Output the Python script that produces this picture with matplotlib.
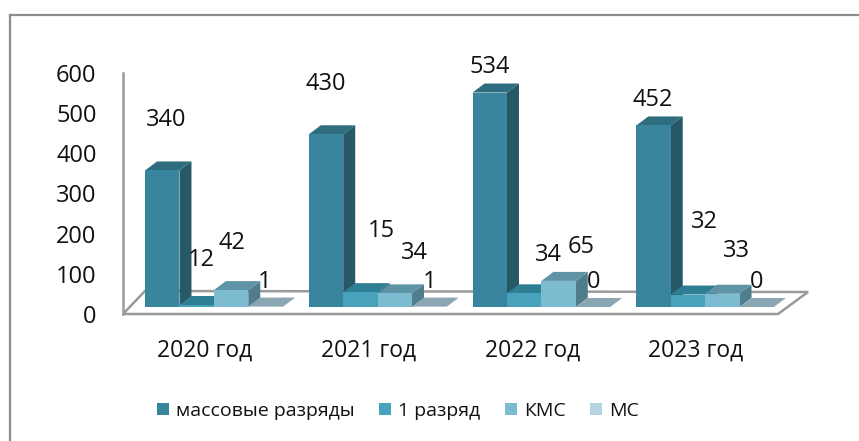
import matplotlib
matplotlib.use("Agg")
import matplotlib.pyplot as plt
from matplotlib.patches import Polygon, Patch
from matplotlib.lines import Line2D

plt.rcParams['font.family'] = ['Open Sans', 'DejaVu Sans']

years = ["2020 год", "2021 год", "2022 год", "2023 год"]
series_names = ["массовые разряды", "1 разряд", "КМС", "МС"]
# values printed as data labels
mass = [340, 430, 534, 452]
first = [12, 15, 34, 32]
kms = [42, 34, 65, 33]
ms = [1, 1, 0, 0]
series = [mass, first, kms, ms]
# the drawn "1 разряд" bars differ from their printed labels in the reference
first_drawn = [5, 37, 34, 31]
drawn = [mass, first_drawn, kms, ms]
y_ticks = [0, 100, 200, 300, 400, 500, 600]

front_cols = ["#3A859E", "#48A2BB", "#7DBBD0", "#B5D4E0"]
top_cols = ["#2E6C80", "#2F7F94", "#5F93A6", "#8AA6B2"]
side_cols = ["#275865", "#2A6A7C", "#4F7D8B", "#7F9AA6"]
GRAY = "#9A9A9A"
TXT = "#111111"

W, H = 859, 441
PX_L, PX_R, PX_B, PX_T = 123, 778, 314, 73

fig = plt.figure(figsize=(W / 100, H / 100), dpi=100)
ax = fig.add_axes([PX_L / W, 1 - PX_B / H, (PX_R - PX_L) / W, (PX_B - PX_T) / H])
ax.set_xlim(-0.5, 3.5)
ax.set_ylim(0, 600)
ax.patch.set_alpha(0)

ux = (PX_R - PX_L) / 4        # px per category
uy = (PX_B - PX_T) / 600      # px per value
def dx(p): return p / ux
def dy(p): return p / uy

# Outer frame (cropped at right and bottom)
fig.add_artist(Line2D([10 / W, 10 / W], [0, 1 - 15 / H], color="#8C8C8C", lw=1.6))
fig.add_artist(Line2D([10 / W, 1], [1 - 15 / H, 1 - 15 / H], color="#8C8C8C", lw=1.6))

# Floor
x0, x1 = -0.5, 3.5
floor = Polygon([(x0, 0), (x1, 0), (x1 + dx(30), dy(22)), (x0 + dx(22), dy(23))],
                closed=True, fc="white", ec=GRAY, lw=1.8, clip_on=False, zorder=1)
ax.add_patch(floor)

# Bars
bar_w = dx(34.4)
base_x = dx(9)     # bar block shift on the floor
base_y = dy(7)
dep_x, dep_y = dx(12), dy(9)
for j, vals in enumerate(drawn):
    for i, v in enumerate(vals):
        l = i + base_x + (j - 2) * bar_w
        r = l + bar_w
        b = base_y
        t = b + v
        z = 3 + i * 10 + j
        ax.add_patch(Polygon([(r, b), (r + dep_x, b + dep_y), (r + dep_x, t + dep_y), (r, t)],
                             fc=side_cols[j], ec="none", clip_on=False, zorder=z))
        ax.add_patch(Polygon([(l, t), (r, t), (r + dep_x, t + dep_y), (l + dep_x, t + dep_y)],
                             fc=top_cols[j], ec="none", clip_on=False, zorder=z + 0.1))
        ax.bar(l, v, width=bar_w, bottom=b, align="edge", color=front_cols[j],
               clip_on=False, zorder=z + 0.2, lw=0)

# Axes styling
for s in ("top", "right", "bottom"):
    ax.spines[s].set_visible(False)
ax.spines["left"].set_color(GRAY)
ax.spines["left"].set_linewidth(1.8)
ax.set_yticks(y_ticks)
ax.tick_params(axis="y", length=0, pad=19, labelsize=17, labelcolor=TXT)
ax.set_xticks(range(4))
ax.set_xticklabels(years)
ax.tick_params(axis="x", length=0, pad=18, labelsize=16.5, labelcolor=TXT)

# Data labels (text anchors in image pixels)
label_xy = [
    [(166, 120), (326, 84), (490, 67), (653, 100)],
    [(201, 260), (381, 231), (548, 255), (704, 222)],
    [(232, 243), (414, 253), (581, 247), (736, 251)],
    [(265, 282), (430, 282), (594, 282), (757, 282)],
]
for j, vals in enumerate(series):
    for i, v in enumerate(vals):
        px, py = label_xy[j][i]
        fig.text(px / W, 1 - py / H, str(v), fontsize=17, color=TXT,
                 ha="center", va="center", zorder=100)

# Legend
handles = [Patch(fc=c, ec="none") for c in front_cols]
fig.legend(handles, series_names, loc="center", bbox_to_anchor=(398 / W, 1 - 411 / H),
           ncol=4, frameon=False, fontsize=14, handlelength=0.62, handleheight=0.62,
           handletextpad=0.36, columnspacing=1.25, labelcolor=TXT, borderpad=0)

fig.savefig("out.png", dpi=100)
